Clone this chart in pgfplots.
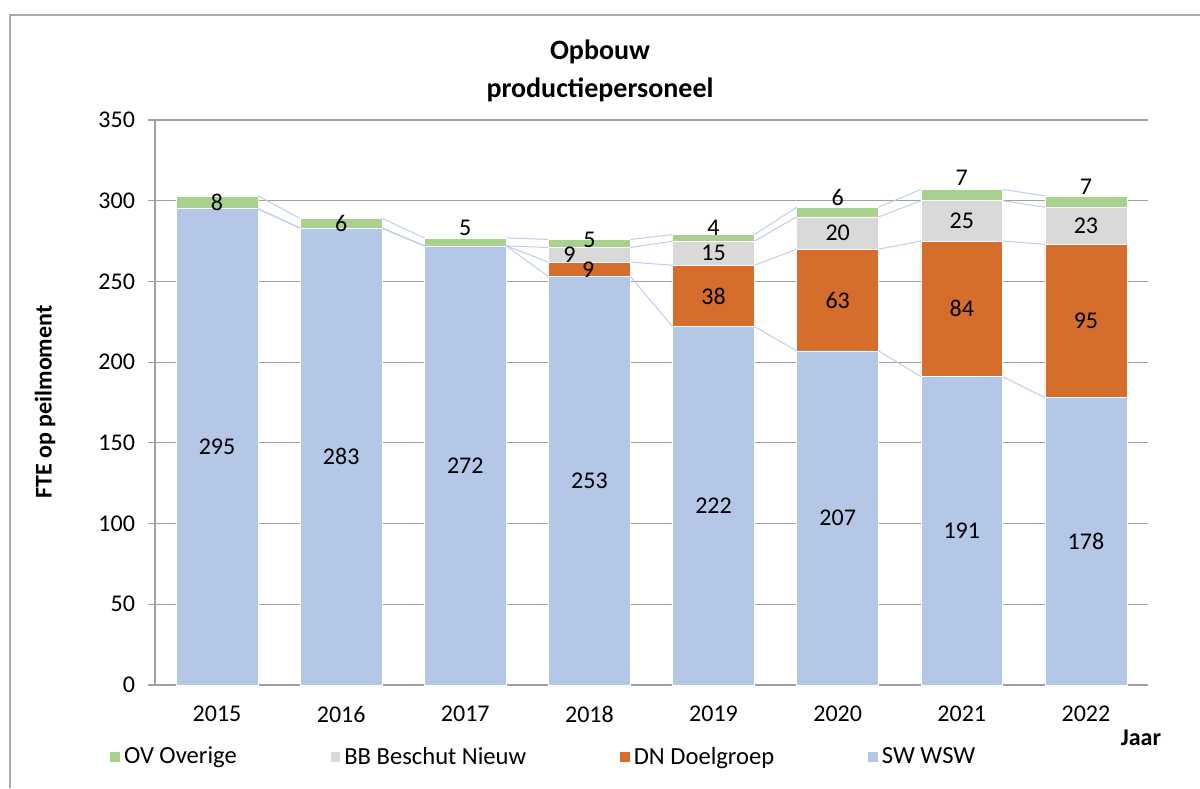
\documentclass[border=0pt]{standalone}
\usepackage{pgfplots}
\pgfplotsset{compat=1.18}
\usepackage{fontspec}
\setmainfont{Carlito}
\definecolor{cOV}{RGB}{169,209,142}
\definecolor{cBB}{RGB}{217,217,217}
\definecolor{cDN}{RGB}{213,109,44}
\definecolor{cSW}{RGB}{180,199,231}
\definecolor{gridc}{RGB}{160,160,160}
\definecolor{framec}{RGB}{170,170,170}
\definecolor{slc}{RGB}{190,206,234}
\newcommand{\lbl}{\fontsize{12}{14}\selectfont}
\begin{document}
\begin{tikzpicture}[x=1pt,y=1pt]
\useasboundingbox (0,0) rectangle (600,394);
\draw[framec, line width=0.7pt] (5,0) -- (5,386.5) -- (600,386.5);
\begin{axis}[
  at={(77.5pt,51.5pt)}, anchor=south west,
  scale only axis, width=496.5pt, height=282.5pt,
  ybar stacked, bar width=0.66,
  xmin=-0.5, xmax=7.5, ymin=0, ymax=350,
  xtick={0,1,2,3,4,5,6,7},
  xticklabels={2015,2016,2017,2018,2019,2020,2021,2022},
  ytick={0,50,100,150,200,250,300,350},
  axis x line*=bottom, axis y line*=left,
  axis line style={gridc, line width=0.6pt},
  ymajorgrids, grid style={gridc, line width=0.6pt},
  xtick style={draw=none},
  ytick style={gridc, line width=0.6pt},
  ytick align=outside, major tick length=3.5pt,
  tick label style={font=\lbl},
  yticklabel style={/pgf/number format/assume math mode=true, xshift=-3pt},
  xticklabel style={yshift=-7pt},
  legend style={at={(-0.0453,-0.1274)}, anchor=west, draw=none, fill=none,
    inner sep=0pt, font=\fontsize{12.3}{14}\selectfont,
    /tikz/every even column/.append style={column sep=45pt}},
  legend columns=4, reverse legend,
  legend image code/.code={\fill[#1, draw=none] (0pt,-2.4pt) rectangle (4.8pt,2.4pt);},
]
\addplot[fill=cSW, draw=white, line width=0.3pt] coordinates {(0,295) (1,283) (2,272) (3,253) (4,222) (5,207) (6,191) (7,178)};
\addplot[fill=cDN, draw=white, line width=0.3pt] coordinates {(0,0) (1,0) (2,0) (3,9) (4,38) (5,63) (6,84) (7,95)};
\addplot[fill=cBB, draw=white, line width=0.3pt] coordinates {(0,0) (1,0) (2,0) (3,9) (4,15) (5,20) (6,25) (7,23)};
\addplot[fill=cOV, draw=white, line width=0.3pt] coordinates {(0,8) (1,6) (2,5) (3,5) (4,4) (5,6) (6,7) (7,7)};
\legend{SW WSW, DN Doelgroep, BB Beschut Nieuw, OV Overige}
\end{axis}
\begin{axis}[
  at={(77.5pt,51.5pt)}, anchor=south west,
  scale only axis, width=496.5pt, height=282.5pt,
  xmin=-0.5, xmax=7.5, ymin=0, ymax=350,
  axis lines=none, unbounded coords=jump, clip=false,
]
% series lines: SW top
\addplot[slc, line width=0.5pt, mark=none] coordinates {(0.33,295) (0.67,283) (1,nan) (1.33,283) (1.67,272) (2,nan) (2.33,272) (2.67,253) (3,nan) (3.33,253) (3.67,222) (4,nan) (4.33,222) (4.67,207) (5,nan) (5.33,207) (5.67,191) (6,nan) (6.33,191) (6.67,178)};
% DN top
\addplot[slc, line width=0.5pt, mark=none] coordinates {(0.33,295) (0.67,283) (1,nan) (1.33,283) (1.67,272) (2,nan) (2.33,272) (2.67,262) (3,nan) (3.33,262) (3.67,260) (4,nan) (4.33,260) (4.67,270) (5,nan) (5.33,270) (5.67,275) (6,nan) (6.33,275) (6.67,273)};
% BB top
\addplot[slc, line width=0.5pt, mark=none] coordinates {(0.33,295) (0.67,283) (1,nan) (1.33,283) (1.67,272) (2,nan) (2.33,272) (2.67,271) (3,nan) (3.33,271) (3.67,275) (4,nan) (4.33,275) (4.67,290) (5,nan) (5.33,290) (5.67,300) (6,nan) (6.33,300) (6.67,296)};
% OV top
\addplot[slc, line width=0.5pt, mark=none] coordinates {(0.33,303) (0.67,289) (1,nan) (1.33,289) (1.67,277) (2,nan) (2.33,277) (2.67,276) (3,nan) (3.33,276) (3.67,279) (4,nan) (4.33,279) (4.67,296) (5,nan) (5.33,296) (5.67,307) (6,nan) (6.33,307) (6.67,303)};
% data labels
\addplot[draw=none, mark=none, nodes near coords, point meta=explicit symbolic,
  every node near coord/.append style={anchor=center, font=\lbl, inner sep=0pt, text=black}]
  coordinates {
  (0,147.5)[295] (1,141.5)[283] (2,136)[272] (3,126.5)[253] (4,111)[222] (5,103.5)[207] (6,95.5)[191] (7,89)[178]
  (2.99,257.5)[9] (4,241)[38] (5,238.5)[63] (6,233)[84] (7,225.5)[95]
  (2.84,266.5)[9] (4,267.5)[15] (5,280)[20] (6,287.5)[25] (7,284.5)[23]
  (0,299)[8] (1,286)[6] (2,283)[5] (3,275.5)[5] (4,283)[4] (5,302)[6] (6,314)[7] (7,308.5)[7]
  };
\end{axis}
\node[font=\bfseries\fontsize{14}{19}\selectfont, align=center] at (300,358.5) {Opbouw\\productiepersoneel};
\node[font=\bfseries\fontsize{12}{14}\selectfont, rotate=90] at (22.5,193) {FTE op peilmoment};
\node[font=\bfseries\fontsize{12}{14}\selectfont] at (570.5,25) {Jaar};
\end{tikzpicture}
\end{document}
